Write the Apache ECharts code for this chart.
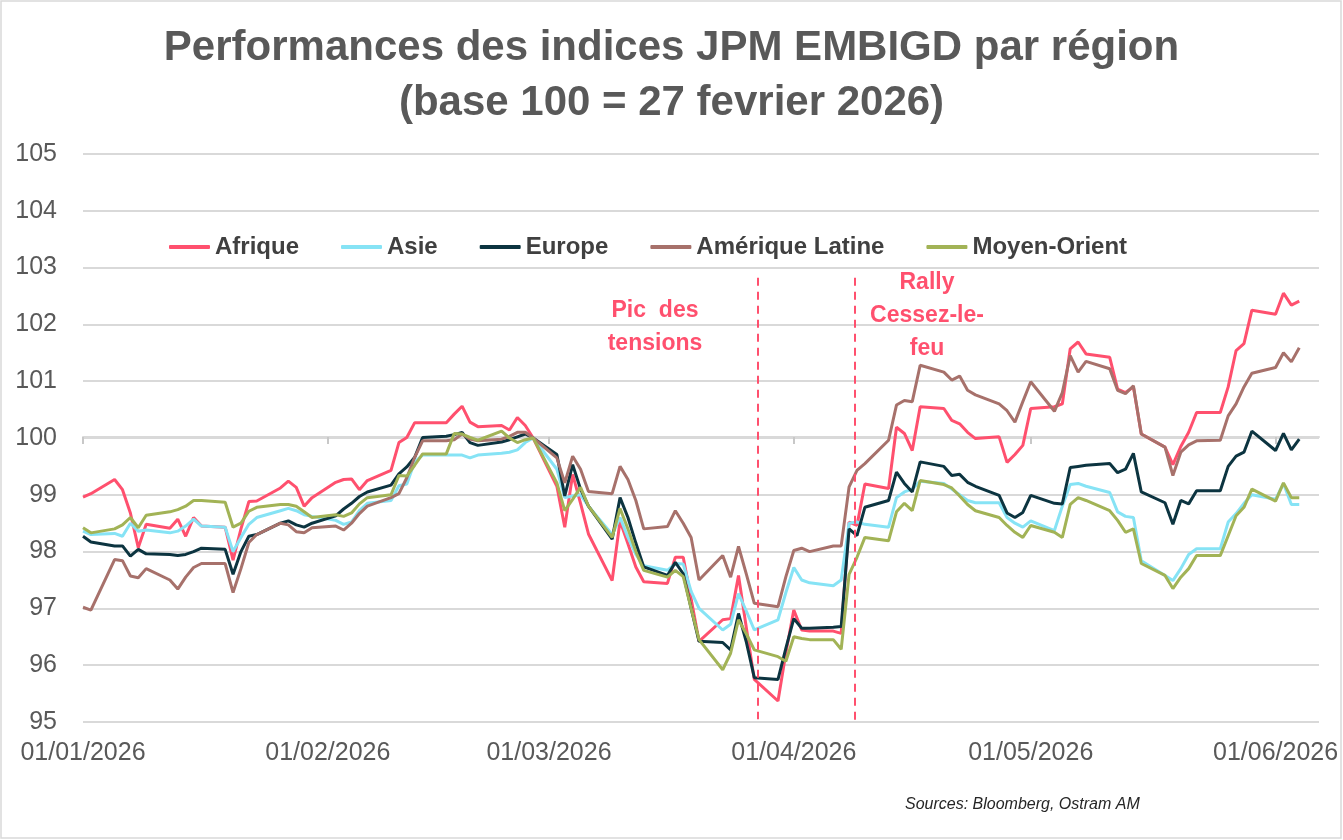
<!DOCTYPE html>
<html>
<head>
<meta charset="utf-8">
<title>Performances des indices JPM EMBIGD par région</title>
<script src="https://cdn.jsdelivr.net/npm/echarts@6/dist/echarts.min.js"></script>
<style>
html,body{margin:0;padding:0;background:#fff;}
#chart{width:1343px;height:840px;}
</style>
</head>
<body>
<div id="chart"></div>
<script>
// jours ouvrés 2026 (MM-JJ)
var dates = [
	'01-01','01-02','01-05','01-06','01-07','01-08','01-09','01-12','01-13','01-14','01-15','01-16','01-19','01-20','01-21','01-22','01-23','01-26','01-27','01-28','01-29','01-30',
	'02-02','02-03','02-04','02-05','02-06','02-09','02-10','02-11','02-12','02-13','02-16','02-17','02-18','02-19','02-20','02-23','02-24','02-25','02-26','02-27',
	'03-02','03-03','03-04','03-05','03-06','03-09','03-10','03-11','03-12','03-13','03-16','03-17','03-18','03-19','03-20','03-23','03-24','03-25','03-26','03-27','03-30','03-31',
	'04-01','04-02','04-03','04-06','04-07','04-08','04-09','04-10','04-13','04-14','04-15','04-16','04-17','04-20','04-21','04-22','04-23','04-24','04-27','04-28','04-29','04-30',
	'05-01','05-04','05-05','05-06','05-07','05-08','05-11','05-12','05-13','05-14','05-15','05-18','05-19','05-20','05-21','05-22','05-25','05-26','05-27','05-28','05-29',
	'06-01','06-02','06-03','06-04'
];
var afrique = [
	98.96,99.02,99.27,99.09,98.68,98.07,98.48,98.41,98.57,98.27,98.6,98.45,98.43,97.85,98.4,98.88,98.89,99.12,99.24,99.13,98.8,98.95,
	99.22,99.27,99.28,99.09,99.25,99.43,99.92,100.01,100.27,100.27,100.27,100.42,100.56,100.28,100.2,100.22,100.14,100.36,100.22,100.0,
	99.15,98.43,99.36,98.85,98.31,97.49,98.54,98.14,97.73,97.47,97.44,97.9,97.9,97.17,96.42,96.8,96.82,97.58,96.65,95.75,95.37,96.22,
	96.97,96.62,96.6,96.6,96.56,98.52,98.46,99.19,99.11,100.19,100.08,99.78,100.55,100.52,100.31,100.25,100.1,99.99,100.02,99.57,99.71,99.87,
	100.52,100.55,100.6,101.57,101.69,101.48,101.42,100.86,100.8,100.9,100.07,99.84,99.53,99.85,100.1,100.45,100.45,100.9,101.54,101.66,102.25,
	102.18,102.55,102.34,102.41
];
var asie = [
	98.36,98.3,98.32,98.27,98.5,98.36,98.38,98.33,98.36,98.45,98.57,98.45,98.43,98.0,98.25,98.48,98.6,98.72,98.76,98.72,98.65,98.62,
	98.55,98.48,98.52,98.72,98.85,98.9,99.16,99.19,99.58,99.7,99.7,99.7,99.7,99.65,99.7,99.73,99.75,99.79,99.92,100.0,
	99.45,98.95,98.98,99.0,98.8,98.3,98.6,98.25,97.95,97.75,97.67,97.79,97.78,97.3,97.0,96.62,96.72,97.26,96.95,96.62,96.8,97.28,
	97.72,97.5,97.45,97.4,97.5,98.5,98.52,98.48,98.43,98.95,99.05,99.1,99.24,99.2,99.1,99.0,98.9,98.86,98.86,98.6,98.5,98.43,
	98.54,98.37,98.8,99.18,99.2,99.15,99.04,98.7,98.62,98.6,97.84,97.58,97.49,97.7,97.95,98.05,98.05,98.52,98.67,98.85,99.0,
	98.92,99.2,98.83,98.83
];
var europe = [
	98.27,98.17,98.1,98.1,97.92,98.04,97.96,97.95,97.93,97.95,98.0,98.06,98.04,97.6,98.0,98.27,98.3,98.5,98.54,98.47,98.43,98.5,
	98.63,98.75,98.85,98.97,99.05,99.17,99.37,99.49,99.66,100.01,100.03,100.06,100.1,99.92,99.87,99.93,99.97,100.02,100.07,100.0,
	99.71,98.98,99.53,99.1,98.8,98.22,98.95,98.6,98.15,97.73,97.58,97.81,97.61,97.0,96.42,96.4,96.27,96.91,96.4,95.78,95.75,96.3,
	96.82,96.65,96.65,96.67,96.68,98.4,98.28,98.78,98.9,99.4,99.2,99.05,99.58,99.5,99.34,99.36,99.22,99.15,98.99,98.68,98.6,98.69,
	98.99,98.85,98.84,99.48,99.5,99.52,99.55,99.39,99.45,99.73,99.05,98.86,98.48,98.9,98.84,99.07,99.07,99.5,99.68,99.75,100.12,
	99.78,100.08,99.79,99.98
];
var ameriqueLatine = [
	97.02,96.97,97.86,97.84,97.57,97.54,97.7,97.5,97.34,97.55,97.72,97.79,97.79,97.28,97.7,98.16,98.3,98.5,98.47,98.35,98.33,98.42,
	98.45,98.38,98.5,98.67,98.8,98.95,99.02,99.3,99.66,99.95,99.95,99.97,100.07,99.98,99.95,99.98,100.03,100.1,100.1,100.0,
	99.65,99.21,99.68,99.45,99.06,99.02,99.5,99.27,98.9,98.4,98.44,98.72,98.5,98.25,97.5,97.93,97.55,98.09,97.6,97.09,97.03,97.56,
	98.02,98.06,98.0,98.1,98.1,99.14,99.43,99.55,99.96,100.58,100.66,100.64,101.28,101.16,101.02,101.09,100.84,100.76,100.6,100.48,100.28,100.64,
	100.99,100.47,100.8,101.45,101.16,101.35,101.22,100.84,100.78,100.92,100.07,99.84,99.34,99.75,99.88,99.95,99.96,100.39,100.6,100.9,101.14,
	101.24,101.5,101.34,101.59
];
var moyenOrient = [
	98.42,98.33,98.4,98.47,98.6,98.42,98.64,98.7,98.74,98.8,98.9,98.9,98.87,98.43,98.5,98.71,98.78,98.83,98.83,98.8,98.7,98.6,
	98.65,98.62,98.68,98.84,98.95,99.0,99.34,99.33,99.52,99.72,99.72,100.08,100.07,100.01,99.96,100.12,100.0,99.92,99.97,100.0,
	99.21,98.72,98.92,99.13,98.8,98.25,98.76,98.4,98.0,97.67,97.55,97.67,97.56,97.0,96.45,95.92,96.21,96.8,96.55,96.27,96.15,96.07,
	96.5,96.47,96.45,96.45,96.28,97.6,97.9,98.25,98.19,98.7,98.85,98.72,99.25,99.18,99.12,98.98,98.83,98.72,98.6,98.46,98.34,98.25,
	98.46,98.34,98.25,98.83,98.95,98.9,98.72,98.55,98.34,98.4,97.79,97.58,97.35,97.55,97.7,97.93,97.93,98.28,98.63,98.78,99.1,
	98.89,99.21,98.95,98.95
];
// graduations de l'axe des dates (1er de chaque mois)
var monthTicks = ['2026-01-01','2026-02-01','2026-03-01','2026-04-01','2026-05-01','2026-06-01'];
// événements marqués
var eventDates = ['2026-03-27 11:00','2026-04-08 18:00'];

var pink = '#FF506E';
var font = 'Liberation Sans';

function toTime(s){
	var p = s.split(/[- :]/);
	return new Date(+p[0], +p[1]-1, +p[2], +(p[3]||0), +(p[4]||0)).getTime();
}
var tickValues = monthTicks.map(toTime);

function pad(n){ return n<10 ? '0'+n : ''+n; }
function fmtDate(v){
	var d = new Date(v);
	return pad(d.getDate())+'/'+pad(d.getMonth()+1)+'/'+d.getFullYear();
}
function serie(name, values, color){
	var data = [];
	for(var i=0;i<dates.length;i++){
		data.push([toTime('2026-'+dates[i]), values[i]]);
	}
	return {
		name:name,
		type:'line',
		data:data,
		symbol:'none',
		smooth:false,
		lineStyle:{width:3, color:color},
		itemStyle:{color:color}
	};
}

var xMin = toTime('2026-01-01');
var xMax = toTime('2026-06-06 12:00');

var series = [
	serie('Afrique', afrique, pink),
	serie('Asie', asie, '#86E3F5'),
	serie('Europe', europe, '#0C3440'),
	serie('Amérique Latine', ameriqueLatine, '#A7716B'),
	serie('Moyen-Orient', moyenOrient, '#A2B356')
];
// lignes verticales en pointillés
series[0].markLine = {
	silent:true,
	symbol:'none',
	label:{show:false},
	lineStyle:{color:pink, width:2, type:[8,6]},
	data:[
		[{coord:[toTime(eventDates[0]),102.82]},{coord:[toTime(eventDates[0]),95.05]}],
		[{coord:[toTime(eventDates[1]),102.82]},{coord:[toTime(eventDates[1]),95.0]}]
	]
};

var chart = echarts.init(document.getElementById('chart'));
var option = {
	backgroundColor:'#fff',
	animation:false,
	textStyle:{fontFamily:font},
	title:{
		text:'Performances des indices JPM EMBIGD par région\n(base 100 = 27 fevrier 2026)',
		left:'center',
		top:16,
		textStyle:{fontFamily:font, fontSize:42, fontWeight:'bold', color:'#595959', lineHeight:55}
	},
	legend:{
		left:164,
		top:230,
		itemGap:42,
		itemWidth:41,
		itemHeight:4,
		icon:'roundRect',
		textStyle:{fontFamily:font, fontSize:24, fontWeight:'bold', color:'#404040', lineHeight:24}
	},
	grid:{left:83, right:24, top:154, bottom:118},
	xAxis:[{
		type:'value',
		min:xMin,
		max:xMax,
		axisLine:{show:false},
		axisTick:{show:false},
		splitLine:{show:false},
		axisLabel:{
			customValues:tickValues,
			formatter:fmtDate,
			fontFamily:font,
			fontSize:25,
			color:'#595959',
			margin:19,
			hideOverlap:false
		}
	},{
		// l'axe horizontal croise à 100
		type:'value',
		min:xMin,
		max:xMax,
		position:'bottom',
		offset:-285,
		axisLine:{show:true, lineStyle:{color:'#D9D9D9', width:2}},
		axisTick:{show:true, length:7, customValues:tickValues, lineStyle:{color:'#C8C8C8', width:2}},
		axisLabel:{show:false},
		splitLine:{show:false}
	}],
	yAxis:{
		type:'value',
		min:95,
		max:105,
		interval:1,
		axisLine:{show:false},
		axisTick:{show:false},
		splitLine:{lineStyle:{color:'#D9D9D9', width:2}},
		axisLabel:{fontFamily:font, fontSize:25, color:'#595959', margin:26}
	},
	series:series,
	graphic:[
		{type:'rect', silent:true, shape:{x:1, y:1, width:1340, height:837}, style:{fill:null, stroke:'#D9D9D9', lineWidth:1.5}},
		{type:'text', x:655, y:294, style:{text:'Pic  des\ntensions', fill:pink, font:'bold 23px "'+font+'"', textAlign:'center', lineHeight:33}},
		{type:'text', x:927, y:266, style:{text:'Rally\nCessez-le-\nfeu', fill:pink, font:'bold 23px "'+font+'"', textAlign:'center', lineHeight:33}},
		{type:'text', x:905, y:797, style:{text:'Sources: Bloomberg, Ostram AM', fill:'#262626', font:'italic 16px "'+font+'"'}}
	]
};
chart.setOption(option);
</script>
</body>
</html>
